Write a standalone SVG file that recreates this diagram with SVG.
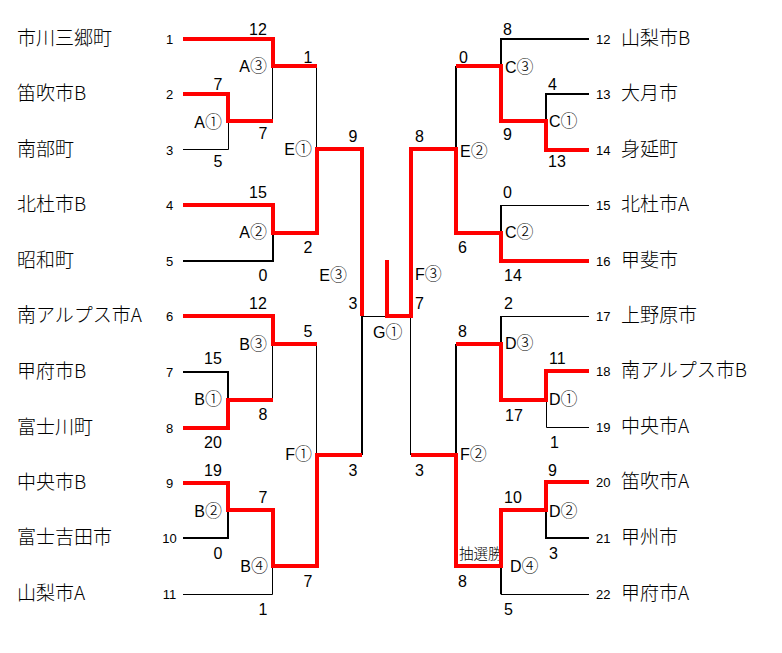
<svg xmlns="http://www.w3.org/2000/svg" width="782" height="653" viewBox="0 0 782 653">
<style>
.name{font-family:"Noto Sans CJK JP","Liberation Sans",sans-serif;font-size:19px;font-weight:300;fill:#000}
.num{font-family:"Liberation Sans",sans-serif;font-size:13px;fill:#000}
.sc{font-family:"Liberation Sans",sans-serif;font-size:16px;fill:#000}
.mt{font-family:"Liberation Sans","Noto Sans CJK JP",sans-serif;font-size:16px;fill:#000}
.c{font-family:"Noto Sans CJK JP",sans-serif;font-size:17px;font-weight:300}
.note{font-family:"Noto Sans CJK JP",sans-serif;font-size:14.5px;font-weight:300;fill:#000}
.k{fill:none;stroke:#000;stroke-width:1}
.k2{fill:none;stroke:#000;stroke-width:2}
.r{fill:none;stroke:#ff0000;stroke-width:4;stroke-linejoin:miter}
.l{text-anchor:middle}
.e{text-anchor:end}
</style>
<rect width="782" height="653" fill="#fff"/>
<!-- teams left -->
<g id="t1"><text class="name" x="17" y="45">市川三郷町</text><text class="num l" x="169.5" y="43.5">1</text></g>
<g id="t2"><text class="name" x="17" y="100">笛吹市B</text><text class="num l" x="169.5" y="98.5">2</text></g>
<g id="t3"><text class="name" x="17" y="156">南部町</text><text class="num l" x="169.5" y="154.5">3</text></g>
<g id="t4"><text class="name" x="17" y="211">北杜市B</text><text class="num l" x="169.5" y="209.5">4</text></g>
<g id="t5"><text class="name" x="17" y="267">昭和町</text><text class="num l" x="169.5" y="265.5">5</text></g>
<g id="t6"><text class="name" x="17" y="322">南アルプス市A</text><text class="num l" x="169.5" y="320.5">6</text></g>
<g id="t7"><text class="name" x="17" y="378">甲府市B</text><text class="num l" x="169.5" y="376.5">7</text></g>
<g id="t8"><text class="name" x="17" y="434">富士川町</text><text class="num l" x="169.5" y="432.5">8</text></g>
<g id="t9"><text class="name" x="17" y="489">中央市B</text><text class="num l" x="169.5" y="487.5">9</text></g>
<g id="t10"><text class="name" x="17" y="544">富士吉田市</text><text class="num l" x="169.5" y="542.5">10</text></g>
<g id="t11"><text class="name" x="17" y="600">山梨市A</text><text class="num l" x="169.5" y="598.5">11</text></g>
<!-- teams right -->
<g id="t12"><text class="num" x="596" y="43.5">12</text><text class="name" x="621" y="45">山梨市B</text></g>
<g id="t13"><text class="num" x="596" y="98.5">13</text><text class="name" x="621" y="100">大月市</text></g>
<g id="t14"><text class="num" x="596" y="154.5">14</text><text class="name" x="621" y="156">身延町</text></g>
<g id="t15"><text class="num" x="596" y="209.5">15</text><text class="name" x="621" y="211">北杜市A</text></g>
<g id="t16"><text class="num" x="596" y="265.5">16</text><text class="name" x="621" y="267">甲斐市</text></g>
<g id="t17"><text class="num" x="596" y="320.5">17</text><text class="name" x="621" y="322">上野原市</text></g>
<g id="t18"><text class="num" x="596" y="375.5">18</text><text class="name" x="621" y="377">南アルプス市B</text></g>
<g id="t19"><text class="num" x="596" y="431.5">19</text><text class="name" x="621" y="433">中央市A</text></g>
<g id="t20"><text class="num" x="596" y="486.5">20</text><text class="name" x="621" y="488">笛吹市A</text></g>
<g id="t21"><text class="num" x="596" y="542.5">21</text><text class="name" x="621" y="544">甲州市</text></g>
<g id="t22"><text class="num" x="596" y="598.5">22</text><text class="name" x="621" y="600">甲府市A</text></g>
<!-- match labels -->
<g id="matches">
<text class="mt e" x="222" y="128">A<tspan class="c">①</tspan></text>
<text class="mt e" x="267" y="238">A<tspan class="c">②</tspan></text>
<text class="mt e" x="267" y="72">A<tspan class="c">③</tspan></text>
<text class="mt e" x="222" y="405">B<tspan class="c">①</tspan></text>
<text class="mt e" x="222" y="517">B<tspan class="c">②</tspan></text>
<text class="mt e" x="267" y="350">B<tspan class="c">③</tspan></text>
<text class="mt e" x="268" y="572">B<tspan class="c">④</tspan></text>
<text class="mt e" x="312" y="155">E<tspan class="c">①</tspan></text>
<text class="mt e" x="347" y="281">E<tspan class="c">③</tspan></text>
<text class="mt e" x="312" y="460">F<tspan class="c">①</tspan></text>
<text class="mt" x="373" y="338">G<tspan class="c">①</tspan></text>
<text class="mt" x="505" y="73">C<tspan class="c">③</tspan></text>
<text class="mt" x="549" y="127">C<tspan class="c">①</tspan></text>
<text class="mt" x="505" y="238">C<tspan class="c">②</tspan></text>
<text class="mt" x="460" y="157">E<tspan class="c">②</tspan></text>
<text class="mt" x="415" y="280">F<tspan class="c">③</tspan></text>
<text class="mt" x="505" y="349">D<tspan class="c">③</tspan></text>
<text class="mt" x="549" y="405">D<tspan class="c">①</tspan></text>
<text class="mt" x="460" y="460">F<tspan class="c">②</tspan></text>
<text class="mt" x="549" y="517">D<tspan class="c">②</tspan></text>
<text class="mt" x="510" y="572">D<tspan class="c">④</tspan></text>
<text class="note" x="459" y="559">抽選勝</text>
</g>
<!-- scores -->
<g id="scores">
<text class="sc l" x="258" y="35">12</text>
<text class="sc l" x="308" y="63">1</text>
<text class="sc l" x="218" y="90">7</text>
<text class="sc l" x="263" y="139">7</text>
<text class="sc l" x="218" y="167">5</text>
<text class="sc l" x="353" y="142">9</text>
<text class="sc l" x="258" y="198">15</text>
<text class="sc l" x="308" y="253">2</text>
<text class="sc l" x="263" y="281">0</text>
<text class="sc l" x="353" y="309">3</text>
<text class="sc l" x="258" y="309">12</text>
<text class="sc l" x="308" y="337">5</text>
<text class="sc l" x="213" y="364">15</text>
<text class="sc l" x="263" y="420">8</text>
<text class="sc l" x="213" y="448">20</text>
<text class="sc l" x="353" y="476">3</text>
<text class="sc l" x="213" y="476">19</text>
<text class="sc l" x="263" y="503">7</text>
<text class="sc l" x="218" y="559">0</text>
<text class="sc l" x="308" y="587">7</text>
<text class="sc l" x="263" y="615">1</text>
<text class="sc" x="503" y="35">8</text>
<text class="sc" x="459" y="63">0</text>
<text class="sc" x="548" y="90">4</text>
<text class="sc" x="503" y="140">9</text>
<text class="sc" x="548" y="167">13</text>
<text class="sc" x="415" y="142">8</text>
<text class="sc" x="503" y="198">0</text>
<text class="sc" x="458" y="253">6</text>
<text class="sc" x="504" y="281">14</text>
<text class="sc" x="415" y="309">7</text>
<text class="sc" x="504" y="309">2</text>
<text class="sc" x="458" y="337">8</text>
<text class="sc" x="549" y="364">11</text>
<text class="sc" x="505" y="421">17</text>
<text class="sc" x="550" y="448">1</text>
<text class="sc" x="415" y="476">3</text>
<text class="sc" x="548" y="476">9</text>
<text class="sc" x="504" y="503">10</text>
<text class="sc" x="549" y="559">3</text>
<text class="sc" x="458" y="587">8</text>
<text class="sc" x="504" y="615">5</text>
</g>
<!-- connectors -->
<g id="connectors">
<path class="k" d="M183,149.5 H228.5 V121"/>
<path class="k" d="M272.5,66 V121"/>
<path class="k" d="M316.5,66 V149"/>
<path class="k2" d="M183,261 H273 V233"/>
<path class="k2" d="M362,316 V455"/>
<path class="k2" d="M183,372 H228 V400"/>
<path class="k" d="M272.5,344 V400"/>
<path class="k" d="M316.5,344 V455"/>
<path class="k2" d="M183,538 H228 V510"/>
<path class="k" d="M183,594.5 H272.5 V566"/>
<path class="k" d="M362,316.5 H387"/>
<path class="k" d="M410.5,316 V455"/>
<path class="k2" d="M589,39 H501 V66"/>
<path class="k2" d="M589,94 H546 V121"/>
<path class="k2" d="M456,66 V149"/>
<path class="k" d="M589,205.5 H501 V233"/>
<path class="k2" d="M501,205 V233"/>
<path class="k" d="M589,316.5 H501 V344"/>
<path class="k2" d="M501,316 V344"/>
<path class="k2" d="M456,344 V455"/>
<path class="k" d="M589,427.5 H546.5 V400"/>
<path class="k2" d="M589,538 H546 V510"/>
<path class="k" d="M589,594.5 H501 V566"/>
<path class="k2" d="M501,594 V566"/>
<path class="r" d="M183,39 H273 V66 H317"/>
<path class="r" d="M183,94 H228 V121 H273"/>
<path class="r" d="M183,205 H273 V233 H317 V149 H362 V316"/>
<path class="r" d="M183,316 H273 V344 H317"/>
<path class="r" d="M183,428 H228 V400 H273"/>
<path class="r" d="M183,483 H228 V510 H273 V566 H317 V455 H362"/>
<path class="r" d="M387,260 V316 H411 V149 H456 V233 H501 V261 H589"/>
<path class="r" d="M456,66 H501 V121 H546 V150 H589"/>
<path class="r" d="M456,344 H501 V400 H546 V371 H589"/>
<path class="r" d="M411,455 H456 V566 H501 V510 H546 V482 H589"/>
</g>
</svg>
